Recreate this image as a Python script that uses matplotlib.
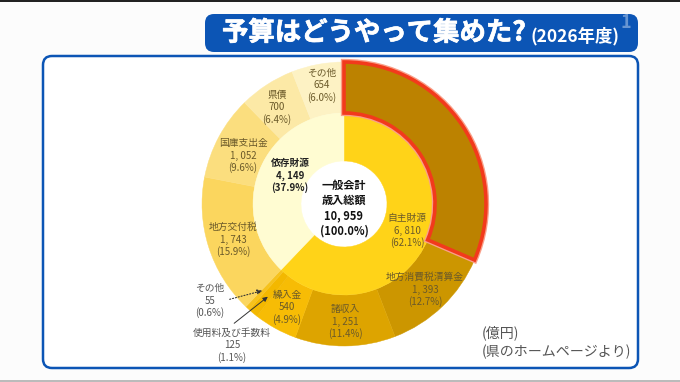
import matplotlib
matplotlib.use("Agg")
import matplotlib.pyplot as plt
from matplotlib.patches import FancyBboxPatch, Rectangle
import matplotlib.patheffects as pe

plt.rcParams['font.family'] = ['Noto Sans CJK JP', 'DejaVu Sans']

# outer ring, clockwise from 12 o'clock
outer_names = ["県税", "地方消費税清算金", "諸収入", "繰入金", "使用料及び手数料", "その他",
               "地方交付税", "国庫支出金", "県債", "その他"]
outer_vals = [3446, 1393, 1251, 540, 125, 55, 1743, 1052, 700, 654]
outer_pct = [31.4, 12.7, 11.4, 4.9, 1.1, 0.6, 15.9, 9.6, 6.4, 6.0]
outer_cols = ["#BC8200", "#CC9600", "#DDA400", "#F7BC05", "#F3B800", "#F6C21C",
              "#FBD65E", "#FBDE7E", "#FCE9A6", "#FDF2C4"]

inner_names = ["自主財源", "依存財源"]
inner_vals = [6810, 4149]
inner_pct = [62.1, 37.9]
inner_cols = ["#FFD318", "#FFFCD2"]
total = 10959

W, H = 680, 382
cx, cy = 344, H - 204
R1, R2, R0 = 142, 91, 43

fig = plt.figure(figsize=(W / 100, H / 100), dpi=100, facecolor="#FCFCFC")
ax = fig.add_axes([0, 0, 1, 1])


def Y(y):
    return H - y


def lab(x, y, lines, color="#6B5A2A", size=7, gap=12.5, weight="normal"):
    for i, s in enumerate(lines):
        ax.text(x, Y(y + i * gap), s, ha="center", va="center", fontsize=size, color=color, fontweight=weight)


# frames and screen edges
ax.add_patch(Rectangle((0, Y(2)), W, 2, fc="#222222", ec="none"))
ax.add_patch(Rectangle((0, 0), W, 2, fc="#BBBBBB", ec="none"))
ax.add_patch(FancyBboxPatch((43, Y(368)), 595, 312, boxstyle="round,pad=0,rounding_size=9",
                            fc="white", ec="#0C55B5", lw=1.8))
ax.add_patch(FancyBboxPatch((205, Y(52)), 433, 38, boxstyle="round,pad=0,rounding_size=9",
                            fc="#0C55B5", ec="none"))

w_out, _ = ax.pie(outer_vals, colors=outer_cols, radius=R1, center=(cx, cy), startangle=90,
                  counterclock=False, wedgeprops=dict(width=R1 - R2, linewidth=0.3), frame=True)
w_in, _ = ax.pie(inner_vals, colors=inner_cols, radius=R2, center=(cx, cy), startangle=90,
                 counterclock=False, wedgeprops=dict(width=R2 - R0, linewidth=0.3), frame=True)
# hide the seams between slices
for w in w_out + w_in:
    w.set_edgecolor(w.get_facecolor())
# red highlight on the biggest slice
w_out[0].set(edgecolor="#F23A1C", linewidth=2.6, zorder=5,
             path_effects=[pe.withStroke(linewidth=4.5, foreground="#F9A08A")])

ax.set_xlim(0, W)
ax.set_ylim(0, H)
ax.set_aspect("equal")
ax.axis("off")

# title
ax.text(222, Y(33), "予算はどうやって集めた?", ha="left", va="center", fontsize=19,
        color="white", fontweight="bold",
        path_effects=[pe.withStroke(linewidth=0.5, foreground="white")])
ax.text(530, Y(36), "(2026年度)", ha="left", va="center", fontsize=12.5,
        color="white", fontweight="bold")
ax.text(626, Y(22), "1", ha="center", va="center", fontsize=13, color="#7FA6DA", fontweight="bold", alpha=0.8)


def fmt(v):
    return f"{v:,}".replace(",", ", ")


def three(i, x, y, color="#6B5A2A"):
    lab(x, y, [outer_names[i], fmt(outer_vals[i]), f"({outer_pct[i]:.1f}%)"], color=color)


three(0, 443, 128, color="#8F6C10")
three(1, 425, 277)
three(2, 345, 309)
three(3, 287, 295)
three(6, 233, 227)
three(7, 243, 143)
three(8, 277, 95)
three(9, 322, 73)
three(5, 210, 288, color="#555555")
three(4, 232, 333, color="#555555")

lab(290, 163, [inner_names[1], fmt(inner_vals[1]), f"({inner_pct[1]:.1f}%)"], color="#222222", weight="bold")
lab(407, 218, [inner_names[0], fmt(inner_vals[0]), f"({inner_pct[0]:.1f}%)"])
lab(344, 185, ["一般会計", "歳入総額", fmt(total), "(100.0%)"], color="#111111", size=8, gap=15.5, weight="bold")

ax.annotate("", xy=(265, Y(290)), xytext=(227, Y(300)),
            arrowprops=dict(arrowstyle="-|>", ls=":", lw=0.8, color="#333333", mutation_scale=7))
ax.annotate("", xy=(270, Y(295)), xytext=(232, Y(325)),
            arrowprops=dict(arrowstyle="-|>", lw=0.7, color="#333333", mutation_scale=7))

ax.text(482, Y(333), "(億円)", ha="left", va="center", fontsize=10.1, color="#555555")
ax.text(482, Y(352), "(県のホームページより)", ha="left", va="center", fontsize=10.1, color="#555555")

fig.savefig("out.png", dpi=100, facecolor=fig.get_facecolor())
